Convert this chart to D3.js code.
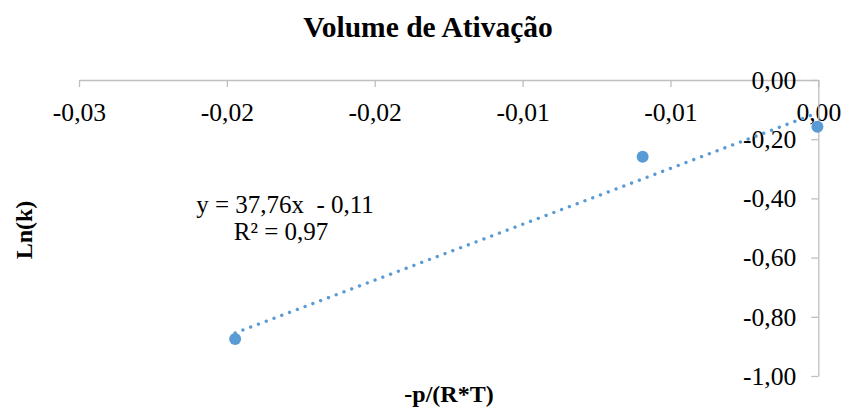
<!DOCTYPE html>
<html>
<head>
<meta charset="utf-8">
<script src="https://cdn.jsdelivr.net/npm/d3@7"></script>
<style>
  html, body { margin: 0; padding: 0; background: #fff; }
  svg { display: block; font-family: "Liberation Serif", "Times New Roman", serif; }
</style>
</head>
<body>
<svg id="chart" width="843" height="407"></svg>
<script>
// Pressure term -p/(R*T) and ln(k) for each run
const xValues = [-0.01972, -0.00594, -0.00003];
const yValues = [-0.875, -0.259, -0.158];

// Linear trendline coefficients and fit quality
const slope = 37.76;
const intercept = -0.11;
const rSquared = 0.97;

// Axis ticks and their printed labels (two decimals, comma separator)
const xTicks = [-0.025, -0.02, -0.015, -0.01, -0.005, 0];
const xTickLabels = ["-0,03", "-0,02", "-0,02", "-0,01", "-0,01", "0,00"];
const yTicks = [0, -0.2, -0.4, -0.6, -0.8, -1];
const yTickLabels = ["0,00", "-0,20", "-0,40", "-0,60", "-0,80", "-1,00"];

const titleText = "Volume de Ativação";
const xTitle = "-p/(R*T)";
const yTitle = "Ln(k)";

const svg = d3.select("#chart");
const plot = { left: 79, right: 818.3, top: 80, bottom: 376 };

const x = d3.scaleLinear().domain([-0.025, 0]).range([plot.left, plot.right]);
const y = d3.scaleLinear().domain([-1, 0]).range([plot.bottom, plot.top]);

const axisColor = "#bfbfbf";
const seriesColor = "#5b9bd5";

// Title
svg.append("text")
  .attr("x", 428).attr("y", 37)
  .attr("text-anchor", "middle")
  .attr("font-weight", "bold")
  .attr("font-size", 29.5)
  .attr("fill", "#000")
  .text(titleText);

// Horizontal axis crosses at y = 0 (top of plot)
const xAxis = svg.append("g")
  .attr("transform", `translate(0,${y(0)})`)
  .call(d3.axisBottom(x)
    .tickValues(xTicks)
    .tickFormat((d, i) => xTickLabels[i])
    .tickSize(7)
    .tickSizeOuter(0));
xAxis.selectAll("text")
  .attr("y", 41).attr("dy", 0)
  .attr("font-size", 25.6)
  .attr("fill", "#000")
  .style("font-family", "'Liberation Serif', 'Times New Roman', serif");

// Vertical axis crosses at x = 0 (right of plot)
const yAxis = svg.append("g")
  .attr("transform", `translate(${x(0)},0)`)
  .call(d3.axisLeft(y)
    .tickValues(yTicks)
    .tickFormat((d, i) => yTickLabels[i])
    .tickSize(7)
    .tickSizeOuter(0));
yAxis.selectAll("text")
  .attr("x", -22).attr("dy", "0.32em")
  .attr("font-size", 25.6)
  .attr("fill", "#000")
  .style("font-family", "'Liberation Serif', 'Times New Roman', serif");

[xAxis, yAxis].forEach(g => {
  g.attr("font-family", null);
  g.select(".domain").attr("stroke", axisColor).attr("stroke-width", 1.3);
  g.selectAll(".tick line").attr("stroke", axisColor).attr("stroke-width", 1.3);
});

// Axis titles
svg.append("text")
  .attr("x", 449).attr("y", 402)
  .attr("text-anchor", "middle")
  .attr("font-weight", "bold")
  .attr("font-size", 24)
  .text(xTitle);

svg.append("text")
  .attr("transform", `translate(32,${(plot.top + plot.bottom) / 2 + 2}) rotate(-90)`)
  .attr("text-anchor", "middle")
  .attr("font-weight", "bold")
  .attr("font-size", 24)
  .text(yTitle);

// Trendline over the data range
const [xMin, xMax] = d3.extent(xValues);
const trend = [xMin, xMax].map(v => [v, slope * v + intercept]);
svg.append("path")
  .attr("d", d3.line().x(d => x(d[0])).y(d => y(d[1]))(trend))
  .attr("fill", "none")
  .attr("stroke", seriesColor)
  .attr("stroke-width", 3.4)
  .attr("stroke-linecap", "round")
  .attr("stroke-dasharray", "0.01 8.3");

// Data points
svg.append("g").selectAll("circle")
  .data(xValues.map((v, i) => [v, yValues[i]]))
  .join("circle")
  .attr("cx", d => x(d[0]))
  .attr("cy", d => y(d[1]))
  .attr("r", 6)
  .attr("fill", seriesColor);

// Trendline equation label
const fmt = v => v.toFixed(2).replace(".", ",");
svg.append("text")
  .attr("x", 285).attr("y", 213)
  .attr("text-anchor", "middle")
  .attr("font-size", 25)
  .attr("xml:space", "preserve")
  .style("white-space", "pre")
  .text(`y = ${fmt(slope)}x  - ${fmt(Math.abs(intercept))}`);
svg.append("text")
  .attr("x", 281).attr("y", 239.5)
  .attr("text-anchor", "middle")
  .attr("font-size", 25)
  .text(`R² = ${fmt(rSquared)}`);
</script>
</body>
</html>
